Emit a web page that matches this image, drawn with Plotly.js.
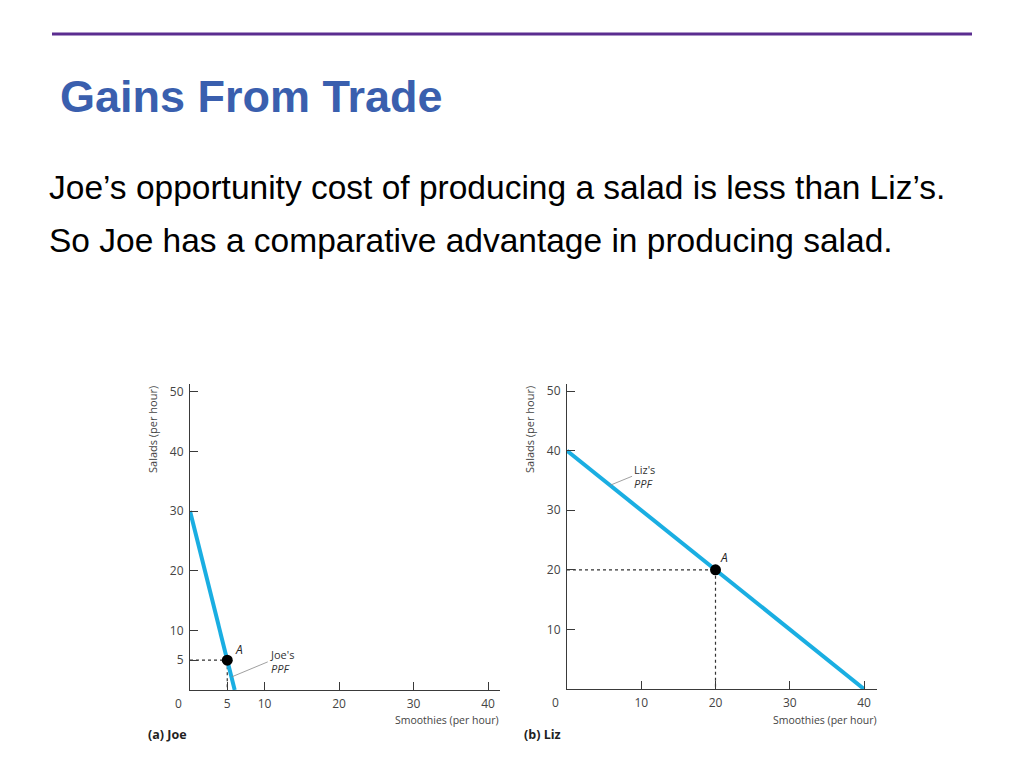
<!DOCTYPE html>
<html>
<head>
<meta charset="utf-8">
<script src="https://cdn.plot.ly/plotly-3.0.1.min.js"></script>
<style>
html,body{margin:0;padding:0;background:#fff;}
#chart{width:1024px;height:768px;}
</style>
</head>
<body>
<div id="chart"></div>
<script>
// ---- Data ----
const joePPFSmoothies = [0, 6];
const joePPFSalads = [30, 0];
const joePointA = {x: 5, y: 5};
const lizPPFSmoothies = [0, 40];
const lizPPFSalads = [40, 0];
const lizPointA = {x: 20, y: 20};
const joeXTicks = [5, 10, 20, 30, 40];
const joeYTicks = [5, 10, 20, 30, 40, 50];
const lizXTicks = [10, 20, 30, 40];
const lizYTicks = [10, 20, 30, 40, 50];

const slideTitle = "Gains From Trade";
const line1 = "Joe’s opportunity cost of producing a salad is less than Liz’s.";
const line2 = "So Joe has a comparative advantage in producing salad.";

const W = 1024, H = 768;
const px = v => v / W;
const py = v => 1 - v / H;

const ppfColor = "#1aaee2";
const axisColor = "#3a3a3a";
const chartFont = "Open Sans, Lato, sans-serif";

function dotted(xs, ys, xa, ya) {
  return {x: xs, y: ys, xaxis: xa, yaxis: ya, mode: "lines",
    line: {color: "#333", width: 1.2, dash: "dot"}, hoverinfo: "skip", showlegend: false};
}

const traces = [
  dotted([0, joePointA.x], [joePointA.y, joePointA.y], "x", "y"),
  dotted([joePointA.x, joePointA.x], [joePointA.y, 0], "x", "y"),
  {x: joePPFSmoothies, y: joePPFSalads, xaxis: "x", yaxis: "y", mode: "lines",
   line: {color: ppfColor, width: 4}, showlegend: false},
  {x: [joePointA.x], y: [joePointA.y], xaxis: "x", yaxis: "y", mode: "markers",
   marker: {color: "#000", size: 11}, showlegend: false},
  dotted([0, lizPointA.x], [lizPointA.y, lizPointA.y], "x2", "y2"),
  dotted([lizPointA.x, lizPointA.x], [lizPointA.y, 0], "x2", "y2"),
  {x: lizPPFSmoothies, y: lizPPFSalads, xaxis: "x2", yaxis: "y2", mode: "lines",
   line: {color: ppfColor, width: 4}, showlegend: false},
  {x: [lizPointA.x], y: [lizPointA.y], xaxis: "x2", yaxis: "y2", mode: "markers",
   marker: {color: "#000", size: 11}, showlegend: false}
];

function xAxis(domain, range, ticks, anchor) {
  return {domain: domain, range: range, anchor: anchor, tickmode: "array", tickvals: ticks,
    ticks: "inside", ticklen: 8, tickwidth: 1, tickcolor: axisColor,
    showline: true, linecolor: axisColor, linewidth: 1, showgrid: false, zeroline: false,
    tickfont: {family: chartFont, size: 12, color: "#444"}, ticklabelstandoff: 3, fixedrange: true};
}
function yAxis(domain, range, ticks, anchor) {
  return {domain: domain, range: range, anchor: anchor, tickmode: "array", tickvals: ticks,
    ticks: "inside", ticklen: 8, tickwidth: 1, tickcolor: axisColor,
    showline: true, linecolor: axisColor, linewidth: 1, showgrid: false, zeroline: false,
    tickfont: {family: chartFont, size: 12, color: "#444"}, ticklabelstandoff: 3, fixedrange: true};
}

const annotations = [
  {xref: "paper", yref: "paper", x: px(58), y: py(96), xanchor: "left", yanchor: "middle",
   text: "<b>" + slideTitle + "</b>", showarrow: false,
   font: {family: "Liberation Sans, Arial, sans-serif", size: 45, color: "#3a5fae"}},
  {xref: "paper", yref: "paper", x: px(47), y: py(187), xanchor: "left", yanchor: "middle",
   text: line1, showarrow: false,
   font: {family: "Liberation Sans, Arial, sans-serif", size: 33.5, color: "#000"}},
  {xref: "paper", yref: "paper", x: px(47), y: py(241), xanchor: "left", yanchor: "middle",
   text: line2, showarrow: false,
   font: {family: "Liberation Sans, Arial, sans-serif", size: 33.5, color: "#000"}},
  // origin labels
  {xref: "x", yref: "y", x: 0, y: 0, xshift: -12, yshift: -13, text: "0", showarrow: false,
   font: {family: chartFont, size: 12, color: "#444"}},
  {xref: "x2", yref: "y2", x: 0, y: 0, xshift: -12, yshift: -13, text: "0", showarrow: false,
   font: {family: chartFont, size: 12, color: "#444"}},
  // axis titles
  {xref: "paper", yref: "paper", x: px(501), y: py(720), xanchor: "right", yanchor: "middle",
   text: "Smoothies (per hour)", showarrow: false, font: {family: chartFont, size: 10.5, color: "#444"}},
  {xref: "paper", yref: "paper", x: px(879), y: py(720), xanchor: "right", yanchor: "middle",
   text: "Smoothies (per hour)", showarrow: false, font: {family: chartFont, size: 10.5, color: "#444"}},
  {xref: "paper", yref: "paper", x: px(152), y: py(430), xanchor: "center", yanchor: "middle",
   textangle: -90, text: "Salads (per hour)", showarrow: false,
   font: {family: chartFont, size: 11, color: "#444"}},
  {xref: "paper", yref: "paper", x: px(529), y: py(430), xanchor: "center", yanchor: "middle",
   textangle: -90, text: "Salads (per hour)", showarrow: false,
   font: {family: chartFont, size: 11, color: "#444"}},
  // panel labels
  {xref: "paper", yref: "paper", x: px(146), y: py(734), xanchor: "left", yanchor: "middle",
   text: "<b>(a) Joe</b>", showarrow: false, font: {family: chartFont, size: 12.5, color: "#222"}},
  {xref: "paper", yref: "paper", x: px(522), y: py(734), xanchor: "left", yanchor: "middle",
   text: "<b>(b) Liz</b>", showarrow: false, font: {family: chartFont, size: 12.5, color: "#222"}},
  // point labels
  {xref: "x", yref: "y", x: joePointA.x, y: joePointA.y, xshift: 12, yshift: 11, text: "<i>A</i>",
   showarrow: false, font: {family: chartFont, size: 12, color: "#222"}},
  {xref: "x2", yref: "y2", x: lizPointA.x, y: lizPointA.y, xshift: 8, yshift: 12, text: "<i>A</i>",
   showarrow: false, font: {family: chartFont, size: 12, color: "#222"}},
  // PPF labels with leader lines
  {xref: "x", yref: "y", x: 5.6, y: 2.2, ax: 36, ay: -15, axref: "pixel", ayref: "pixel",
   text: "Joe's<br><i>PPF</i>", showarrow: true, arrowhead: 0, arrowwidth: 0.8, arrowcolor: "#888",
   xanchor: "left", align: "left", font: {family: chartFont, size: 11, color: "#333"}},
  {xref: "x2", yref: "y2", x: 5.8, y: 34.2, ax: 22, ay: -9, axref: "pixel", ayref: "pixel",
   text: "Liz's<br><i>PPF</i>", showarrow: true, arrowhead: 0, arrowwidth: 0.8, arrowcolor: "#888",
   xanchor: "left", align: "left", font: {family: chartFont, size: 11, color: "#333"}}
];

const layout = {
  width: W, height: H,
  margin: {l: 0, r: 0, t: 0, b: 0},
  paper_bgcolor: "#fff", plot_bgcolor: "rgba(0,0,0,0)",
  showlegend: false,
  xaxis: xAxis([px(190), px(500)], [0, 41.6], joeXTicks, "y"),
  yaxis: yAxis([py(690), py(384)], [0, 51.3], joeYTicks, "x"),
  xaxis2: xAxis([px(567), px(877)], [0, 41.75], lizXTicks, "y2"),
  yaxis2: yAxis([py(689), py(384)], [0, 51.2], lizYTicks, "x2"),
  shapes: [
    {type: "line", xref: "paper", yref: "paper", x0: px(52), x1: px(972), y0: py(34), y1: py(34),
     line: {color: "#5b2d90", width: 3}}
  ],
  annotations: annotations
};

Plotly.newPlot("chart", traces, layout, {staticPlot: true, displayModeBar: false});
</script>
</body>
</html>
